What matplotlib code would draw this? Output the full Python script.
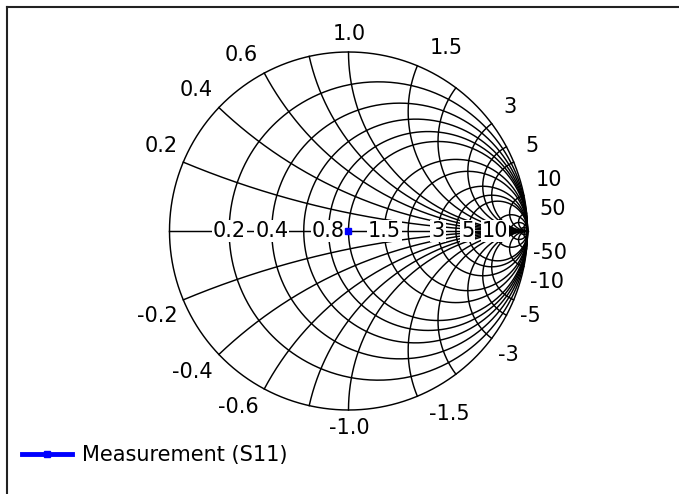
import numpy as np
import matplotlib
matplotlib.use("Agg")
import matplotlib.pyplot as plt

# ---- data ----
series_name = "Measurement (S11)"
s11_real = [0.0]      # reflection coefficient, real part
s11_imag = [0.0]      # reflection coefficient, imag part

r_circles = [0.2, 0.4, 0.6, 0.8, 1.0, 1.5, 2.0, 3.0, 4.0, 5.0, 10.0, 20.0, 50.0]
x_arcs = [0.2, 0.4, 0.6, 0.8, 1.0, 1.5, 2.0, 3.0, 4.0, 5.0, 10.0, 20.0, 50.0]
r_labels = ["0.2", "0.4", "0.8", "1.5", "3", "5", "10"]
x_labels = ["0.2", "0.4", "0.6", "1.0", "1.5", "3", "5", "10", "50"]

W, H = 679, 494
CX, CY, RP = 348.5, 231.0, 179.0

fig = plt.figure(figsize=(W / 100, H / 100), dpi=100)
ax = fig.add_axes([0, 0, 1, 1])
ax.set_xlim(-CX / RP, (W - CX) / RP)
ax.set_ylim(-(H - CY) / RP, CY / RP)
ax.set_aspect("auto")
ax.axis("off")

FONT = "DejaVu Sans"
FS = 15
lw = 1.05
col = "black"


def gamma(z):
    return (z - 1) / (z + 1)


# outer circle
t = np.linspace(0, 2 * np.pi, 721)
ax.plot(np.cos(t), np.sin(t), color=col, lw=lw, zorder=2)
# real axis
ax.plot([-1, 1], [0, 0], color=col, lw=lw, zorder=2)

# resistance circles
xs = np.concatenate([-np.logspace(3, -3, 600), [0], np.logspace(-3, 3, 600)])
for r in r_circles:
    g = gamma(r + 1j * xs)
    ax.plot(g.real, g.imag, color=col, lw=lw, zorder=2)

# reactance arcs
rs = np.concatenate([[0], np.logspace(-3, 3, 800)])
for x in x_arcs:
    for s in (1, -1):
        g = gamma(rs + 1j * s * x)
        ax.plot(g.real, g.imag, color=col, lw=lw, zorder=2)

# labels on real axis
for lab in r_labels:
    g = gamma(float(lab))
    ax.text(g.real, 0, lab, ha="center", va="center", fontsize=FS, family=FONT,
            zorder=4, bbox=dict(boxstyle="square,pad=0.05", fc="white", ec="none"))

# labels on rim
for lab in x_labels:
    for s in (1, -1):
        g = gamma(1j * s * float(lab))
        txt = lab if s > 0 else "-" + lab
        dy = (15 + 3 * abs(g.imag)) / RP * s
        if g.real < -0.05:
            ha, dx = "right", -6 / RP
        elif g.real > 0.05:
            ha, dx = "left", (6 if (s < 0 and g.real > 0.7) else 12) / RP
        else:
            ha, dx = "center", 1 / RP
        ax.text(g.real + dx, g.imag + dy, txt, ha=ha, va="center", fontsize=FS,
                family=FONT, zorder=4)

# data
ax.plot(s11_real, s11_imag, color="blue", lw=3.5, marker="s", markersize=5,
        label=series_name, zorder=5)

leg = ax.legend(loc="center left", bbox_to_anchor=(22 / W, 1 - 455 / H),
                bbox_transform=fig.transFigure, frameon=False,
                prop={"family": FONT, "size": FS}, handlelength=2.4,
                handletextpad=0.5, borderaxespad=0, borderpad=0)

# frame
fig.add_artist(plt.Line2D([6.5 / W, 6.5 / W], [0, 1 - 7 / H], color="#222222", lw=1.5,
                          transform=fig.transFigure))
fig.add_artist(plt.Line2D([6.5 / W, 1], [1 - 7 / H, 1 - 7 / H], color="#222222", lw=1.5,
                          transform=fig.transFigure))

fig.savefig("out.png", dpi=100)
